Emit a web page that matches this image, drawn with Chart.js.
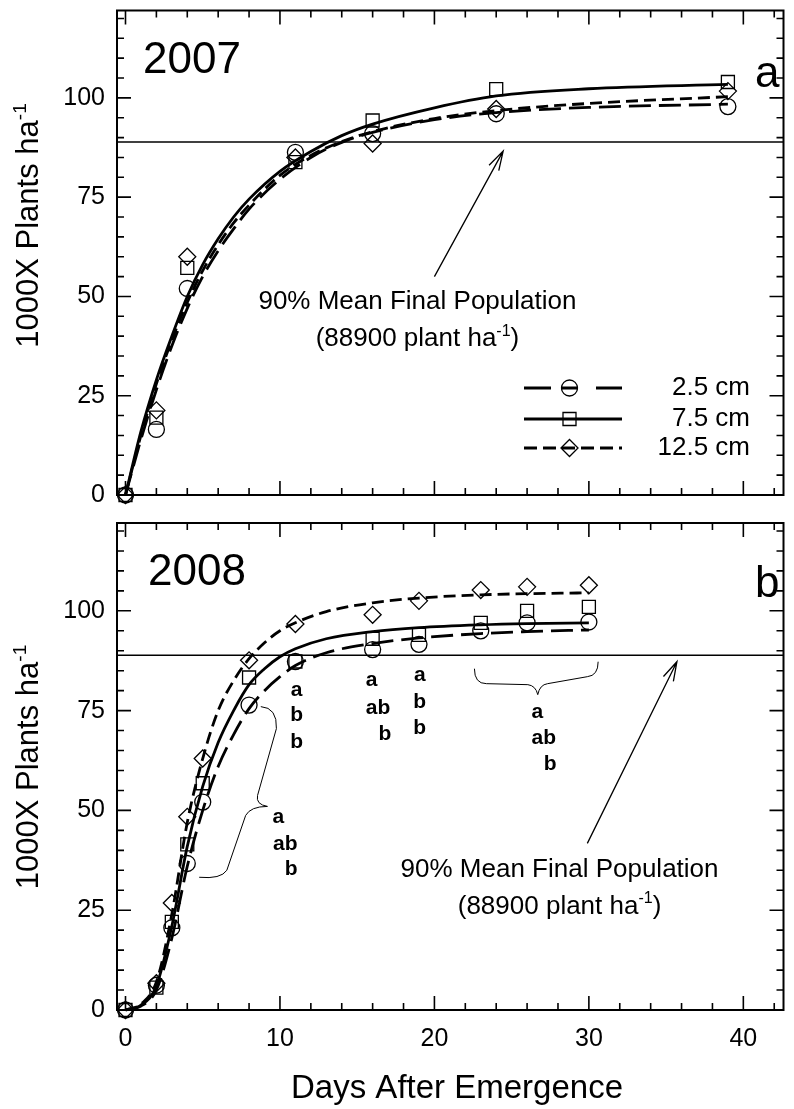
<!DOCTYPE html>
<html>
<head>
<meta charset="utf-8">
<script src="https://cdn.jsdelivr.net/npm/chart.js@4.4.1/dist/chart.umd.min.js"></script>
<style>
  html, body { margin: 0; padding: 0; background: #fff; }
  #wrap { position: relative; width: 794px; height: 1109px; }
  canvas { position: absolute; left: 0; }
  #top { top: 0; }
  #bottom { top: 510px; }
</style>
</head>
<body>
<div id="wrap">
  <canvas id="top" width="794" height="510"></canvas>
  <canvas id="bottom" width="794" height="599"></canvas>
</div>
<script>
const FONT = "'Liberation Sans', Arial, Helvetica, sans-serif";

// Seeding depths (legend order)
const DEPTHS = ['2.5 cm', '7.5 cm', '12.5 cm'];

// 2007 observed stands (1000 plants/ha)
const DAYS_2007 = [0, 2, 4, 11, 16, 24, 39];
const OBS_2007_25 = [0, 16.5, 52, 86.3, 91, 96, 97.8];
const OBS_2007_75 = [0, 19.5, 57.2, 83.8, 94.3, 102.2, 104];
const OBS_2007_125 = [0, 21.3, 60, 85, 88.5, 97.2, 101.7];

// 2007 fitted curves
const FIT_X_2007 = [0, 1, 2, 3, 4, 5, 6, 7, 8, 10, 12, 14, 16, 20, 24, 30, 39];
const FIT_2007_25 = [0, 14, 26.5, 37.5, 47, 55, 61.5, 67, 72, 79.5, 85, 88.8, 91.3, 94.5, 96.3, 97.6, 98.4];
const FIT_2007_75 = [0, 16, 29, 40, 50, 58, 64.5, 70, 74.5, 81.5, 86.5, 90.5, 93.4, 97.5, 100.5, 102.3, 103.4];
const FIT_2007_125 = [0, 15, 28, 39, 48.5, 56.5, 63, 68.5, 73, 80.5, 85.5, 89, 91.5, 94.8, 96.8, 98.6, 100.3];

// 2008 observed stands
const DAYS_2008 = [0, 2, 3, 4, 5, 8, 11, 16, 19, 23, 26, 30];
const OBS_2008_25 = [0, 6.2, 20.6, 36.7, 52.1, 76.4, 87.3, 90.3, 91.6, 95, 97, 97.2];
const OBS_2008_75 = [0, 5.6, 22.1, 41.5, 56.8, 83.3, 87.3, 93, 94, 97, 100, 101];
const OBS_2008_125 = [0, 6.7, 26.8, 48.4, 63, 87.6, 96.7, 99, 102.5, 105.2, 106, 106.4];

// 2008 fitted curves
const FIT_X_2008 = [0, 1, 2, 3, 4, 5, 6, 7, 8, 9, 10, 11, 13, 16, 19, 23, 26, 30];
const FIT_2008_25 = [0, 1, 5, 18, 36, 50, 61, 69, 75.5, 80, 83.5, 86.3, 89.5, 91.8, 93.2, 94.3, 94.8, 95.2];
const FIT_2008_75 = [0, 1.2, 6, 21, 41, 56, 67, 75, 81.5, 85.5, 88.5, 90.5, 93, 94.8, 95.8, 96.5, 96.8, 97];
const FIT_2008_125 = [0, 1.5, 7, 24, 47, 63, 75, 82.5, 88, 92, 95, 97, 99.8, 102, 103.2, 104, 104.3, 104.5];

// 90% of mean final population
const REF_LEVEL = 88.9;

// Axes
const X_TICKS = [0, 10, 20, 30, 40];
const Y_TICKS = [0, 25, 50, 75, 100];
const X_MINOR = 2, Y_MINOR = 5;
const X_MIN = -0.55, X_MAX = 42.6, Y_MAX = 122;

const STYLE = {
    '2.5 cm': { dash: [22, 8], point: 'circle', radius: 8 },
    '7.5 cm': { dash: [], point: 'rect', radius: 9.2 },
    '12.5 cm': { dash: [12, 6], point: 'rectRot', radius: 8.5 }
};

function pairs(xs, ys) {
    return xs.map((x, i) => ({ x, y: ys[i] }));
}

function buildDatasets(fitX, fits, days, obs) {
    const sets = [];
    DEPTHS.forEach((d, i) => {
        sets.push({
            label: d + ' obs',
            data: pairs(days, obs[i]),
            showLine: false,
            pointStyle: STYLE[d].point,
            pointRadius: STYLE[d].radius,
            pointBorderWidth: 1.3,
            pointBorderColor: '#000',
            pointBackgroundColor: 'rgba(0,0,0,0)',
            clip: false
        });
    });
    DEPTHS.forEach((d, i) => {
        sets.push({
            label: d,
            data: pairs(fitX, fits[i]),
            showLine: true,
            borderColor: '#000',
            borderWidth: 2.8,
            borderDash: STYLE[d].dash,
            pointRadius: 0,
            cubicInterpolationMode: 'monotone',
            fill: false,
            clip: false
        });
    });
    return sets;
}

function buildScales(showXLabels, xAxisHeight) {
    const tickFont = { family: FONT, size: 25 };
    return {
        x: {
            type: 'linear', min: X_MIN, max: X_MAX,
            grid: { display: false, drawTicks: false },
            border: { display: false },
            ticks: { display: showXLabels, padding: 14, color: '#000', font: tickFont },
            afterBuildTicks: s => { s.ticks = X_TICKS.map(v => ({ value: v })); },
            afterFit: s => { s.height = xAxisHeight; s.paddingLeft = 0; s.paddingRight = 0; }
        },
        y: {
            type: 'linear', min: 0, max: Y_MAX,
            grid: { display: false, drawTicks: false },
            border: { display: false },
            ticks: { padding: 12, color: '#000', font: tickFont },
            afterBuildTicks: s => { s.ticks = Y_TICKS.map(v => ({ value: v })); },
            afterFit: s => { s.width = 117; s.paddingTop = 0; s.paddingBottom = 0; }
        }
    };
}

// ---- drawing helpers ----
function P(chart, x, y) {
    return [chart.scales.x.getPixelForValue(x), chart.scales.y.getPixelForValue(y)];
}

// text with a superscript part, y = baseline
function supText(ctx, x, y, main, sup, tail, size, align) {
    const big = size + 'px ' + FONT;
    const small = Math.round(size * 0.62) + 'px ' + FONT;
    ctx.font = big;
    const w1 = ctx.measureText(main).width;
    const w3 = tail ? ctx.measureText(tail).width : 0;
    ctx.font = small;
    const w2 = ctx.measureText(sup).width;
    const x0 = align === 'center' ? x - (w1 + w2 + w3) / 2 : x;
    ctx.textAlign = 'left';
    ctx.textBaseline = 'alphabetic';
    ctx.font = big;
    ctx.fillText(main, x0, y);
    ctx.font = small;
    ctx.fillText(sup, x0 + w1, y - size * 0.4);
    if (tail) {
        ctx.font = big;
        ctx.fillText(tail, x0 + w1 + w2, y);
    }
}

function yTitle(ctx, cx, cy) {
    ctx.save();
    ctx.translate(cx, cy);
    ctx.rotate(-Math.PI / 2);
    supText(ctx, 0, 31 * 0.36, '1000X Plants ha', '-1', '', 31, 'center');
    ctx.restore();
}

function arrow(ctx, chart, from, to) {
    const [x1, y1] = P(chart, from[0], from[1]);
    const [x2, y2] = P(chart, to[0], to[1]);
    const ang = Math.atan2(y2 - y1, x2 - x1), len = 20, spread = 0.28;
    ctx.beginPath();
    ctx.moveTo(x1, y1);
    ctx.lineTo(x2, y2);
    ctx.moveTo(x2 - len * Math.cos(ang - spread), y2 - len * Math.sin(ang - spread));
    ctx.lineTo(x2, y2);
    ctx.lineTo(x2 - len * Math.cos(ang + spread), y2 - len * Math.sin(ang + spread));
    ctx.stroke();
}

// brace path in data units: ['M',x,y] ['L',x,y] ['Q',cx,cy,x,y]
function brace(ctx, chart, cmds) {
    ctx.beginPath();
    cmds.forEach(c => {
        if (c[0] === 'M') ctx.moveTo(...P(chart, c[1], c[2]));
        else if (c[0] === 'L') ctx.lineTo(...P(chart, c[1], c[2]));
        else ctx.quadraticCurveTo(...P(chart, c[1], c[2]), ...P(chart, c[3], c[4]));
    });
    ctx.stroke();
}

function marker(ctx, style, x, y) {
    ctx.beginPath();
    const r = STYLE[style].radius;
    if (STYLE[style].point === 'circle') {
        ctx.arc(x, y, r, 0, Math.PI * 2);
    } else if (STYLE[style].point === 'rect') {
        const s = r * Math.SQRT1_2;
        ctx.rect(x - s, y - s, 2 * s, 2 * s);
    } else {
        ctx.moveTo(x - r, y); ctx.lineTo(x, y - r); ctx.lineTo(x + r, y); ctx.lineTo(x, y + r);
        ctx.closePath();
    }
    ctx.stroke();
}

function note(ctx, chart, at1, at2) {
    ctx.fillStyle = '#000';
    let [x, y] = P(chart, at1[0], at1[1]);
    ctx.font = '26px ' + FONT;
    ctx.textAlign = 'center';
    ctx.textBaseline = 'middle';
    ctx.fillText('90% Mean Final Population', x, y);
    [x, y] = P(chart, at2[0], at2[1]);
    supText(ctx, x, y + 9.4, '(88900 plant ha', '-1', ')', 26, 'center');
}

// frame, inward ticks and reference line (shared)
const framePlugin = {
    id: 'frame',
    beforeDatasetsDraw(chart) {
        const { ctx, chartArea: a, scales: { y } } = chart;
        const yr = y.getPixelForValue(REF_LEVEL);
        ctx.save();
        ctx.strokeStyle = '#000';
        ctx.lineWidth = 1.5;
        ctx.beginPath();
        ctx.moveTo(a.left, yr);
        ctx.lineTo(a.right, yr);
        ctx.stroke();
        ctx.restore();
    },
    afterDraw(chart) {
        const { ctx, chartArea: a, scales: { x, y } } = chart;
        ctx.save();
        ctx.strokeStyle = '#000';
        ctx.lineWidth = 1.6;
        ctx.beginPath();
        for (let v = 0; v <= X_MAX; v += X_MINOR) {
            const p = x.getPixelForValue(v);
            const len = X_TICKS.includes(v) ? 14 : 7;
            ctx.moveTo(p, a.bottom); ctx.lineTo(p, a.bottom - len);
            ctx.moveTo(p, a.top); ctx.lineTo(p, a.top + len);
        }
        for (let v = 0; v <= Y_MAX; v += Y_MINOR) {
            const p = y.getPixelForValue(v);
            const len = Y_TICKS.includes(v) ? 14 : 7;
            ctx.moveTo(a.left, p); ctx.lineTo(a.left + len, p);
            ctx.moveTo(a.right, p); ctx.lineTo(a.right - len, p);
        }
        ctx.stroke();
        ctx.lineWidth = 2;
        ctx.strokeRect(a.left, a.top, a.right - a.left, a.bottom - a.top);
        ctx.restore();
    }
};

const topDecor = {
    id: 'topDecor',
    afterDraw(chart) {
        const { ctx, chartArea: a } = chart;
        ctx.save();
        ctx.fillStyle = '#000';
        ctx.strokeStyle = '#000';
        ctx.font = '44px ' + FONT;
        ctx.textAlign = 'left';
        ctx.textBaseline = 'middle';
        ctx.fillText('2007', a.left + 26, a.top + 50);
        ctx.textBaseline = 'alphabetic';
        ctx.fillText('a', 755, a.top + 76);

        yTitle(ctx, 27, a.top + 215);
        note(ctx, chart, [18.9, 48.7], [18.9, 39.9]);
        ctx.lineWidth = 1.3;
        arrow(ctx, chart, [20, 55], [24.45, 86.6]);

        // legend
        const rows = [388, 419, 448];
        const dashes = { '2.5 cm': [27, 10, 17, 18, 27, 60], '7.5 cm': [], '12.5 cm': [13, 6] };
        DEPTHS.forEach((d, i) => {
            const yy = rows[i];
            ctx.lineWidth = 2.8;
            ctx.setLineDash(dashes[d]);
            ctx.beginPath();
            ctx.moveTo(524, yy);
            ctx.lineTo(622, yy);
            ctx.stroke();
            ctx.setLineDash([]);
            ctx.lineWidth = 1.3;
            marker(ctx, d, 569.5, yy);
            ctx.font = '26px ' + FONT;
            ctx.textAlign = 'right';
            ctx.textBaseline = 'middle';
            ctx.fillText(d, 750, yy);
        });
        ctx.restore();
    }
};

const bottomDecor = {
    id: 'bottomDecor',
    afterDraw(chart) {
        const { ctx, chartArea: a } = chart;
        ctx.save();
        ctx.fillStyle = '#000';
        ctx.strokeStyle = '#000';
        ctx.font = '44px ' + FONT;
        ctx.textAlign = 'left';
        ctx.textBaseline = 'middle';
        ctx.fillText('2008', a.left + 31, a.top + 50);
        ctx.textBaseline = 'alphabetic';
        ctx.fillText('b', 755, a.top + 74);

        yTitle(ctx, 27, a.top + 244);
        ctx.font = '33px ' + FONT;
        ctx.textAlign = 'center';
        ctx.textBaseline = 'middle';
        ctx.fillText('Days After Emergence', 457, a.bottom + 79);

        note(ctx, chart, [28.1, 35], [28.1, 26.5]);
        ctx.lineWidth = 1.3;
        arrow(ctx, chart, [29.9, 41.75], [35.7, 87.25]);

        // mean separation letters
        const letters = [
            [11.08, 80, 'a'], [11.08, 73.75, 'b'], [11.08, 67, 'b'],
            [15.93, 82.5, 'a'], [16.35, 75.6, 'ab'], [16.8, 69, 'b'],
            [19.05, 83.9, 'a'], [19.05, 77, 'b'], [19.05, 70.5, 'b'],
            [26.67, 74.5, 'a'], [27.08, 68, 'ab'], [27.5, 61.5, 'b'],
            [9.9, 48.25, 'a'], [10.35, 41.5, 'ab'], [10.73, 35.25, 'b']
        ];
        ctx.font = 'bold 21px ' + FONT;
        ctx.textAlign = 'center';
        ctx.textBaseline = 'middle';
        letters.forEach(([x, y, t]) => ctx.fillText(t, ...P(chart, x, y)));

        ctx.lineWidth = 1;
        brace(ctx, chart, [
            ['M', 22.59, 85.5], ['Q', 22.59, 81.75, 23.36, 81.75], ['L', 26.05, 81.5],
            ['Q', 26.56, 81.25, 26.69, 79], ['Q', 26.82, 81.5, 27.33, 81.75],
            ['L', 29.9, 83.5], ['Q', 30.6, 83.75, 30.6, 87.25]
        ]);
        brace(ctx, chart, [
            ['M', 8.76, 76], ['Q', 9.83, 75.75, 9.77, 70.5], ['L', 8.55, 53.75],
            ['Q', 8.42, 51.5, 9.19, 51], ['Q', 8.1, 51, 7.78, 48.75],
            ['L', 6.56, 35], ['Q', 6.18, 32.75, 4.77, 33.25]
        ]);
        ctx.restore();
    }
};

function makeChart(id, datasets, showXLabels, padTop, xAxisHeight, decor) {
    return new Chart(document.getElementById(id), {
        type: 'scatter',
        data: { datasets },
        options: {
            responsive: false,
            animation: false,
            events: [],
            layout: { padding: { top: padTop, right: 4, left: 0, bottom: 0 } },
            plugins: { legend: { display: false }, tooltip: { enabled: false } },
            scales: buildScales(showXLabels, xAxisHeight)
        },
        plugins: [framePlugin, decor]
    });
}

makeChart('top',
    buildDatasets(FIT_X_2007, [FIT_2007_25, FIT_2007_75, FIT_2007_125], DAYS_2007, [OBS_2007_25, OBS_2007_75, OBS_2007_125]),
    false, 8, 15, topDecor);

makeChart('bottom',
    buildDatasets(FIT_X_2008, [FIT_2008_25, FIT_2008_75, FIT_2008_125], DAYS_2008, [OBS_2008_25, OBS_2008_75, OBS_2008_125]),
    true, 13, 99, bottomDecor);
</script>
</body>
</html>
